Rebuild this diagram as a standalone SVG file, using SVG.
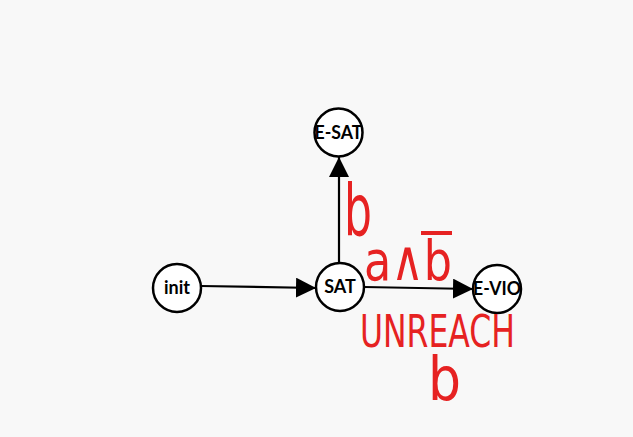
<svg xmlns="http://www.w3.org/2000/svg" width="633" height="437" viewBox="0 0 633 437">
<style>
.node circle{fill:#fff;stroke:#000;stroke-width:2.5}
.node text{font-family:Lato,"Liberation Sans",sans-serif;font-weight:bold;font-size:18px;text-anchor:middle;fill:#000}
.edge{stroke:#000;stroke-width:2.2;fill:none}
.hw{font-family:"DejaVu Sans","Liberation Sans",sans-serif;fill:#e62222}
</style>
<defs>
<marker id="arr" markerWidth="20" markerHeight="20" refX="20" refY="10" orient="auto" markerUnits="userSpaceOnUse">
<path d="M0,0 L20,10 L0,20 Z" fill="#000"/>
</marker>
</defs>
<rect width="633" height="437" fill="#f8f8f8"/>
<g id="connectors">
<line class="edge" x1="201" y1="286" x2="316" y2="288" marker-end="url(#arr)"/>
<line class="edge" x1="339" y1="263" x2="339" y2="157" marker-end="url(#arr)"/>
<line class="edge" x1="364" y1="287" x2="473" y2="289" marker-end="url(#arr)"/>
</g>
<g id="init" class="node"><circle cx="177" cy="288" r="24"/><text x="177" y="294">init</text></g>
<g id="SAT" class="node"><circle cx="340" cy="287" r="24"/><text x="340" y="293">SAT</text></g>
<g id="E-SAT" class="node"><circle cx="338.5" cy="132.5" r="24"/><text x="338.5" y="139" textLength="48" lengthAdjust="spacingAndGlyphs">E-SAT</text></g>
<g id="E-VIO" class="node"><circle cx="497" cy="289" r="24"/><text x="497" y="295" textLength="48" lengthAdjust="spacingAndGlyphs">E-VIO</text></g>
<g id="annotations">
<text class="hw" x="344" y="235" font-size="72" textLength="28" lengthAdjust="spacingAndGlyphs">b</text>
<text class="hw" x="364" y="280" font-size="56" textLength="88" lengthAdjust="spacingAndGlyphs">a∧b</text>
<line x1="421" y1="233" x2="452" y2="233" stroke="#e62222" stroke-width="4"/>
<text class="hw" x="360" y="347" font-size="44" textLength="155" lengthAdjust="spacingAndGlyphs">UNREACH</text>
<text class="hw" x="428" y="400" font-size="60" textLength="33" lengthAdjust="spacingAndGlyphs">b</text>
</g>
</svg>
